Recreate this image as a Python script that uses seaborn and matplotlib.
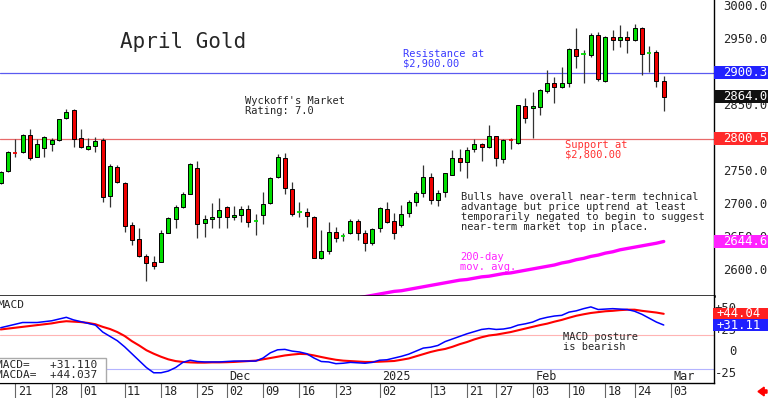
import matplotlib.pyplot as plt
import matplotlib.patches as mpatches
import seaborn as sns
import numpy as np
import pandas as pd

sns.set_style('white')
plt.rcParams['font.family'] = ['DejaVu Sans Mono', 'DejaVu Sans']

# trading calendar (Comex holidays skipped)
holidays = ['2024-11-28', '2024-12-25', '2025-01-01', '2025-01-20', '2025-02-17']
days = pd.bdate_range('2024-10-17', '2025-03-03')
days = days[~days.isin(pd.to_datetime(holidays))]

# daily OHLC, April gold futures
opens = [2733, 2751, 2779.5, 2780, 2806, 2773, 2786, 2792, 2798, 2832,
         2844, 2801, 2785, 2789, 2798, 2714, 2757, 2733, 2670, 2648,
         2623, 2613, 2614, 2658, 2679, 2697, 2717, 2756, 2673, 2679,
         2682, 2697, 2682, 2685, 2694, 2674, 2685, 2703, 2742, 2771,
         2724, 2689, 2689, 2682, 2620, 2630, 2659, 2652, 2658, 2676,
         2658, 2643, 2665, 2694, 2676, 2670, 2688, 2705, 2718, 2742,
         2708, 2720, 2745, 2771, 2765, 2785, 2792, 2788, 2804, 2770,
         2799, 2794, 2850, 2847, 2848, 2873, 2885, 2879, 2885, 2936,
         2928, 2927, 2958, 2888, 2954, 2950, 2954, 2950, 2968, 2929,
         2932, 2888]
highs = [2752, 2781, 2800, 2808, 2815, 2800, 2805, 2802, 2831, 2846,
         2846, 2815, 2801, 2803, 2801, 2762, 2760, 2735, 2674, 2665,
         2626, 2623, 2662, 2682, 2700, 2720, 2763, 2767, 2685, 2703,
         2711, 2698, 2698, 2698, 2700, 2686, 2720, 2742, 2777, 2779,
         2735, 2705, 2695, 2683, 2662, 2674, 2667, 2658, 2679, 2679,
         2662, 2665, 2697, 2705, 2688, 2700, 2707, 2721, 2761, 2748,
         2723, 2749, 2783, 2785, 2788, 2800, 2794, 2821, 2805, 2800,
         2801, 2852, 2862, 2871, 2876, 2905, 2894, 2909, 2938, 2968,
         2935, 2961, 2962, 2956, 2965, 2973, 2964, 2974, 2970, 2941,
         2935, 2896]
lows = [2731, 2750, 2773, 2779, 2768, 2772, 2773, 2782, 2797, 2830,
        2788, 2787, 2784, 2780, 2704, 2697, 2734, 2659, 2639, 2621,
        2585, 2603, 2613, 2657, 2665, 2696, 2716, 2650, 2651, 2665,
        2665, 2665, 2677, 2674, 2667, 2655, 2671, 2702, 2741, 2717,
        2683, 2682, 2667, 2619, 2618, 2626, 2644, 2645, 2656, 2647,
        2630, 2639, 2659, 2673, 2648, 2667, 2682, 2698, 2712, 2701,
        2698, 2712, 2745, 2751, 2741, 2780, 2767, 2787, 2759, 2764,
        2785, 2793, 2824, 2801, 2836, 2870, 2855, 2877, 2879, 2907,
        2885, 2924, 2888, 2886, 2935, 2939, 2930, 2948, 2897, 2901,
        2879, 2842]
closes = [2750, 2780, 2778.5, 2806, 2771, 2792, 2803, 2798, 2830, 2841,
          2800, 2788, 2789, 2797, 2712, 2759, 2735, 2668, 2647, 2623,
          2612, 2607, 2658, 2680, 2697, 2717, 2762, 2671, 2679, 2681,
          2692, 2682, 2685, 2694, 2674, 2675, 2701, 2741, 2773, 2726,
          2686, 2690, 2683, 2620, 2630, 2659, 2650, 2653, 2676, 2658,
          2642, 2664, 2695, 2674, 2658, 2686, 2705, 2718, 2742, 2708,
          2718, 2748, 2771, 2765, 2783, 2792, 2788, 2804, 2771, 2798,
          2798, 2851, 2832, 2850, 2874, 2885, 2879, 2885, 2936, 2926,
          2929, 2958, 2891, 2954, 2950, 2954, 2950, 2968, 2929, 2930,
          2888, 2864]

# 200-day moving average, visible from day 48 on
ma_start = 48
ma200 = [2557, 2559, 2561, 2563, 2565, 2567, 2569, 2570, 2572, 2574,
         2576, 2578, 2580, 2582, 2584, 2586, 2587, 2589, 2591, 2592,
         2594, 2596, 2597, 2599, 2601, 2603, 2605, 2607, 2609, 2612,
         2614, 2617, 2619, 2622, 2624, 2627, 2629, 2632, 2634, 2636,
         2638, 2640, 2642, 2644.6]

# MACD (blue) and MACDA signal (red)
macd = [28, 30, 32, 34, 34, 34, 35, 36, 38, 40,
        37, 35, 33, 31, 23, 18, 13, 6, -2, -10,
        -18, -24, -24, -22, -18, -12, -9.5, -11, -11.5, -11.5,
        -11.5, -11, -10.5, -10.5, -10.5, -10.5, -7, -1, 2.5, 3,
        1, 0, -2, -7, -11, -11.5, -13.5, -13, -12, -12.5,
        -13, -12, -9.5, -9, -7, -5, -2.5, 1, 4.5, 5.5,
        7.5, 12, 15, 18, 21, 23.5, 26, 27, 26, 26.5,
        28, 31, 32.5, 34.5, 38, 40, 41.5, 42.3, 46, 47.5,
        50, 52, 49, 49.5, 50, 49.5, 49, 47, 43.5, 39,
        34.5, 31.110]
macda = [26, 27, 28, 29, 30, 31, 32, 33, 34.5, 35.5,
         35, 34.5, 33.5, 32, 29, 26.5, 23, 18.5, 12.5, 7.5,
         2, -2, -5.5, -8.5, -10.5, -11.5, -12, -12.3, -12.3, -12,
         -12, -11.8, -11.5, -11, -10.5, -10, -8.5, -7, -5.5, -4,
         -3, -2.2, -2.5, -4, -5.8, -7.5, -9, -10, -10.5, -11,
         -11.5, -11.5, -11.2, -10.8, -10.4, -9, -7.5, -5, -2.5, 0,
         2, 3.5, 6, 9, 11.5, 14.5, 17, 19, 20, 21.5,
         23, 25, 27, 29, 31, 32.7, 35, 37, 39.5, 41.8,
         43.5, 45, 46, 47, 47.5, 48.3, 48.8, 48.8, 47.5, 46.5,
         45.5, 44.037]

price_ticks = [3000, 2950, 2900, 2850, 2800, 2750, 2700, 2650, 2600]
macd_ticks = [50, 25, 0, -25]
macd_tick_labels = ['+50', '+25', '0', '-25']
tick_days = ['2024-10-21', '2024-10-28', '2024-11-01', '2024-11-11', '2024-11-18',
             '2024-11-25', '2024-12-02', '2024-12-09', '2024-12-16', '2024-12-23',
             '2025-01-02', '2025-01-13', '2025-01-21', '2025-01-27', '2025-02-03',
             '2025-02-10', '2025-02-18', '2025-02-24', '2025-03-03']
month_days = ['2024-12-02', '2025-01-02', '2025-02-03', '2025-03-03']
month_labels = ['Dec', '2025', 'Feb', 'Mar']

resistance = 2900.3
support = 2800.5

GREEN = '#00dd00'
RED = '#ee0000'

fig = plt.figure(figsize=(7.68, 3.98), dpi=100)
ax = fig.add_axes([0, 1 - 296 / 398, 714 / 768, 296 / 398])
ax2 = fig.add_axes([0, 15 / 398, 714 / 768, 87 / 398])

x = np.arange(len(closes))
o = np.array(opens)
c = np.array(closes)
up = c >= o
cols = np.where(up, GREEN, RED)
body_lo = np.minimum(o, c)
body_h = np.abs(c - o)
doji = body_h < 1.5

# --- price panel
ax.axhline(resistance, color='#5a5af0', lw=0.9, zorder=1)
ax.axhline(support, color='#e86a6a', lw=0.9, zorder=1)
ax.vlines(x, lows, highs, color='#333333', lw=0.9, zorder=2)
ax.bar(x[~doji], body_h[~doji], bottom=body_lo[~doji], width=0.55,
       color=cols[~doji], edgecolor='black', linewidth=0.7, zorder=3)
ax.hlines(c[doji], x[doji] - 0.3, x[doji] + 0.3, colors=cols[doji], lw=1.3, zorder=3)
sns.lineplot(x=x[ma_start:], y=ma200, ax=ax, color='#ff00ff', lw=2.4, zorder=2)

ax.set_xlim(-0.1, 97.9)
ax.set_ylim(2562, 3010.6)
ax.set_xticks([])
ax.set_yticks([])
for s in ['left', 'top']:
    ax.spines[s].set_visible(False)
ax.spines['bottom'].set_linewidth(1.8)
ax.spines['right'].set_linewidth(1.0)
for s in ['bottom', 'right']:
    ax.spines[s].set_color('black')

ytr = ax.get_yaxis_transform()
for v in price_ticks:
    ax.text(1.0126, v, f'{v:.1f}', transform=ytr, ha='left', va='center',
            fontsize=8.8, clip_on=False)
for v, col in [(resistance, '#2222ff'), (closes[-1], '#111111'),
               (support, '#ff2a2a'), (ma200[-1], '#ff22ff')]:
    ax.add_patch(mpatches.Rectangle((1.0, v - 9.8), 0.08, 19.6, transform=ytr,
                                    fc=col, ec='none', clip_on=False, zorder=5))
    ax.text(1.0126, v, f'{v:.1f}', transform=ytr, ha='left', va='center',
            fontsize=8.8, color='white', clip_on=False, zorder=6)

ax.text(120 / 714, 1 - 48 / 296, 'April Gold', transform=ax.transAxes,
        fontsize=15, va='baseline', ha='left')
ax.text(245 / 714, 1 - 105.5 / 296, "Wyckoff's Market\nRating: 7.0",
        transform=ax.transAxes, fontsize=7.5, va='center', linespacing=1.0)
ax.text(403 / 714, 1 - 59 / 296, 'Resistance at\n$2,900.00', color='#3a3aff',
        transform=ax.transAxes, fontsize=7.5, va='center', linespacing=1.0)
ax.text(565 / 714, 1 - 149.5 / 296, 'Support at\n$2,800.00', color='#ff3030',
        transform=ax.transAxes, fontsize=7.5, va='center', linespacing=1.0)
ax.text(461 / 714, 1 - 212.5 / 296,
        'Bulls have overall near-term technical\n'
        'advantage but price uptrend at least\n'
        'temporarily negated to begin to suggest\n'
        'near-term market top in place.',
        transform=ax.transAxes, fontsize=7.5, va='center', linespacing=1.0)
ax.text(460 / 714, 1 - 261.5 / 296, '200-day\nmov. avg.', color='#ff22ff',
        transform=ax.transAxes, fontsize=7.5, va='center', linespacing=1.0)

# --- MACD panel
ax2.axhline(20, color='#ffb4b4', lw=0.8)
ax2.axhline(-20, color='#b4b4ff', lw=0.8)
sns.lineplot(x=x, y=macda, ax=ax2, color='#ff0000', lw=1.5)
sns.lineplot(x=x, y=macd, ax=ax2, color='#0000ff', lw=1.1)
ax2.set_xlim(-0.1, 97.9)
ax2.set_ylim(-35.8, 64.6)
ax2.set_yticks([])
for s in ['left', 'top']:
    ax2.spines[s].set_visible(False)
for s in ['bottom', 'right']:
    ax2.spines[s].set_color('black')
    ax2.spines[s].set_linewidth(1.0)

tick_pos = [days.get_loc(pd.Timestamp(d)) for d in tick_days]
ax2.set_xticks(tick_pos)
ax2.set_xticklabels([])
ax2.tick_params(axis='x', bottom=True, length=11, width=0.8, color='#666666',
                direction='out')
xtr = ax2.get_xaxis_transform()
for d, p in zip(tick_days, tick_pos):
    ax2.text(p + 0.35, -0.095, pd.Timestamp(d).strftime('%d'), transform=xtr,
             fontsize=8.5, ha='left', va='center', clip_on=False)
for d, lab in zip(month_days, month_labels):
    p = days.get_loc(pd.Timestamp(d))
    ax2.text(p + 0.35, 0.075, lab, transform=xtr, fontsize=8.5, ha='left',
             va='center')

ytr2 = ax2.get_yaxis_transform()
for v, lab in zip(macd_ticks, macd_tick_labels):
    ax2.text(1.032, v, lab, transform=ytr2, ha='right', va='center',
             fontsize=8.8, clip_on=False)
for v, col in [(macda[-1], '#ff2020'), (macd[-1], '#2020ff')]:
    ax2.add_patch(mpatches.Rectangle((0.998, v - 6.6), 0.08, 13.2, transform=ytr2,
                                     fc=col, ec='none', clip_on=False, zorder=5))
    ax2.text(1.003, v, f'+{v:.2f}', transform=ytr2, ha='left', va='center',
             fontsize=8.8, color='white', clip_on=False, zorder=6)

ax2.text(-0.004, 0.9, 'MACD', transform=ax2.transAxes, fontsize=8, va='center')
ax2.text(563 / 714, (383 - 342) / 87, 'MACD posture\nis bearish',
         transform=ax2.transAxes, fontsize=7.5, va='center', linespacing=1.0)
ax2.add_patch(mpatches.Rectangle((-0.01, 0.0), 0.1585, 0.287, transform=ax2.transAxes,
                                 fc='white', ec='#aaaaaa', lw=1.0, zorder=5))
ax2.text(-0.006, 0.145, f'MACD=   +{macd[-1]:.3f}\nMACDA=  +{macda[-1]:.3f}',
         transform=ax2.transAxes, fontsize=8, va='center', ha='left',
         linespacing=1.0, zorder=6)

# little red arrow in the corner
fig.patches.append(mpatches.FancyArrow(0.9987, 0.0163, -0.0117, 0, width=0.008,
                                       head_width=0.022, head_length=0.008,
                                       length_includes_head=True,
                                       transform=fig.transFigure, color='red'))

fig.savefig('out.png', dpi=100)
plt.close(fig)
